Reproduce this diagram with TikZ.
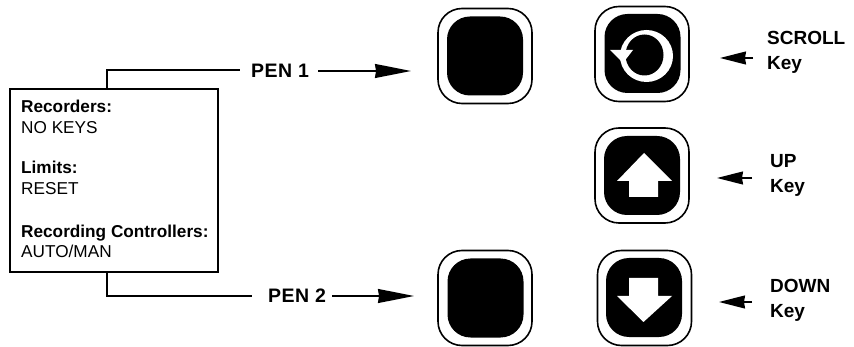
\documentclass[tikz,border=0pt]{standalone}
\usepackage{fontspec}
\setmainfont{Liberation Sans}
\newfontfamily\penfont[LetterSpace=2.5]{Liberation Sans Bold}
\usetikzlibrary{arrows.meta,calc}
\tikzset{
  keyouter/.style={draw=black,line width=1.6pt,fill=white,rounded corners=24pt,minimum width=94pt,minimum height=95pt,inner sep=0pt},
  keyinner/.style={fill=black,rounded corners=23pt,minimum width=76pt,minimum height=79pt,inner sep=0pt},
  lbl/.style={font=\fontsize{19}{25}\selectfont\bfseries,inner sep=0pt,anchor=west,align=left},
  penlbl/.style={font=\fontsize{19.5}{24}\selectfont\penfont,inner sep=0pt,anchor=west},
  lineconn/.style={line width=1.4pt},
  arrowconn/.style={line width=1.4pt,-{Stealth[length=36pt,width=14pt,inset=1pt]}},
  shortarrow/.style={line width=1.4pt,-{Stealth[length=26pt,width=13pt,inset=1pt]}},
  glyph/.style={fill=white,draw=none},
  boxtext/.style={font=\fontsize{17.2}{20.5}\selectfont,inner sep=0pt,anchor=west,align=left}
}
\begin{document}
\begin{tikzpicture}[x=1pt,y=-1pt]
\useasboundingbox (0,0) rectangle (854,347);
% info box
\node[draw=black,line width=1.4pt,minimum width=208pt,minimum height=183pt,inner sep=0pt] (box) at (114,180.5) {};
\node[boxtext] (boxtxt1) at (21,117) {\textbf{Recorders:}\\NO KEYS};
\node[boxtext] (boxtxt2) at (21,178) {\textbf{Limits:}\\RESET};
\node[boxtext] (boxtxt3) at (21,241.5) {\textbf{Recording Controllers:}\\AUTO/MAN};
% keys
\node[keyouter] (k1) at (485,56) {};
\node[keyinner] (k1i) at (485,56) {};
\node[keyouter] (k2) at (642,54) {};
\node[keyinner] (k2i) at (642.5,53.5) {};
\node[keyouter] (k3) at (642,175.5) {};
\node[keyinner] (k3i) at (642,175.5) {};
\node[keyouter] (k4) at (644.5,298) {};
\node[keyinner] (k4i) at (644,297.5) {};
\node[keyouter] (k5) at (485,298) {};
\node[keyinner] (k5i) at (485.5,298) {};
% scroll glyph
\fill[white] (646.5,56) ellipse [x radius=26.5pt,y radius=26pt];
\fill[black] (644.5,55) ellipse [x radius=19pt,y radius=20.5pt];
\fill[glyph] (610,50) -- (633,50) -- (623,63) -- cycle;
% up / down glyphs
\fill[glyph] (644,153) -- (672,181) -- (658,181) -- (658,197) -- (629,197) -- (629,181) -- (617,181) -- cycle;
\fill[glyph] (643.5,322) -- (672,296) -- (658,296) -- (658,278) -- (629,278) -- (629,296) -- (617,296) -- cycle;
% labels
\node[penlbl] (pen1) at (251,71) {PEN 1};
\node[penlbl] (pen2) at (268,296) {PEN 2};
\node[lbl] (scroll) at (767,52) {SCROLL\\Key};
\node[lbl] (up) at (770,175) {UP\\Key};
\node[lbl] (down) at (770,300.5) {DOWN\\Key};
% connectors
\coordinate (t1) at (107,70);
\coordinate (b1) at (107,296);
\coordinate (t2) at (240,70);
\coordinate (b2) at (252,296);
\draw[lineconn] (box.north -| t1) -- (t1) -- (t2);
\draw[lineconn] (box.south -| b1) -- (b1) -- (b2);
\coordinate (a1) at (411,71);
\coordinate (a2) at (414,296);
\draw[arrowconn] ($(pen1.east)+(9,0)$) -- (a1);
\draw[arrowconn] ($(pen2.east)+(6,0)$) -- (a2);
\coordinate (s1) at (753,58);
\coordinate (s2) at (720,58);
\draw[shortarrow] (s1) -- (s2);
\coordinate (u1) at (752,178);
\coordinate (u2) at (717,178);
\draw[shortarrow] (u1) -- (u2);
\coordinate (d1) at (752,302);
\coordinate (d2) at (719,302);
\draw[shortarrow] (d1) -- (d2);
\end{tikzpicture}
\end{document}
